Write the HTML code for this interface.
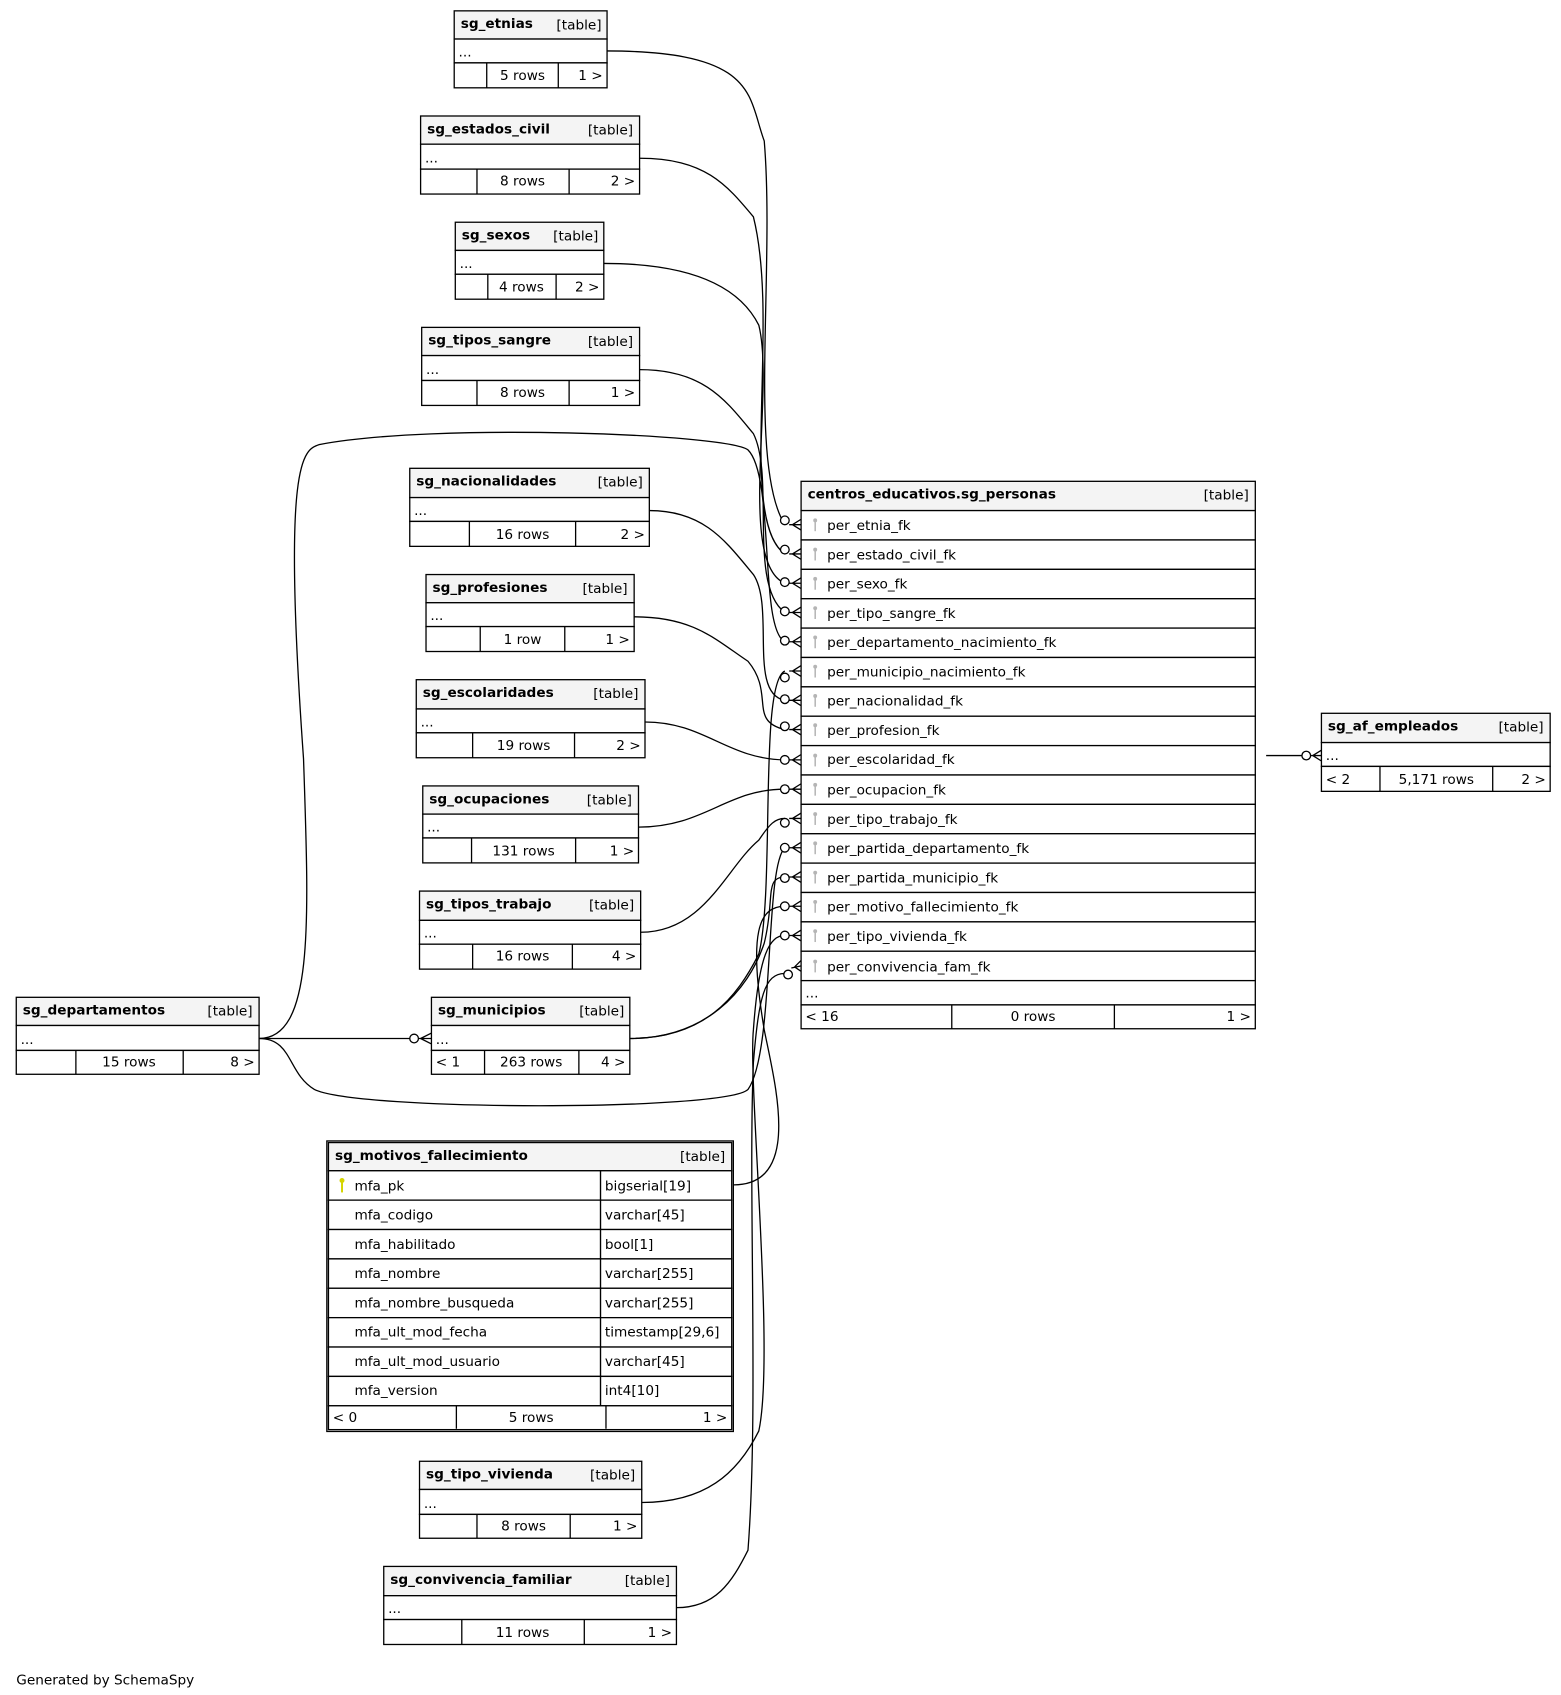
<!DOCTYPE html>
<html><head><meta charset="utf-8"><style>
html,body{margin:0;padding:0;background:#fff;width:1561px;height:1695px;overflow:hidden}
svg{display:block}
text{font-family:"DejaVu Sans","Liberation Sans",sans-serif;font-size:12.6px;fill:#000}
.b{font-weight:bold}
.e{text-anchor:end}
.m{text-anchor:middle}
rect{stroke:#000;stroke-width:1.2}
.h{fill:#f4f4f4}
.w{fill:#fff}
path.c{fill:none;stroke:#000;stroke-width:1.2}
line{stroke:#000;stroke-width:1.2}
.k line{stroke:#b5b5b5;stroke-width:1.4}
.k circle{fill:#b5b5b5}
</style></head><body>
<svg width="1561" height="1695" viewBox="0 0 1440 1563.6" xmlns="http://www.w3.org/2000/svg">
<!-- edges -->
<path class="c" d="M560,47 C700,47 690,90 705,130 C715,250 690,430 724,484"/>
<path class="c" d="M590,146 C650,146 670,170 695,200 C720,300 680,480 724,511"/>
<path class="c" d="M557,243 C630,243 680,260 700,300 C715,360 680,520 724,538"/>
<path class="c" d="M590,341 C650,341 670,370 695,400 C715,440 690,540 724,565"/>
<path class="c" d="M239,958 C290,958 285,850 280,700 C260,420 280,415 295,410 C400,390 670,400 690,415 C715,440 700,580 724,592"/>
<path class="c" d="M599,471 C650,471 670,500 695,530 C715,560 690,640 724,646"/>
<path class="c" d="M585,569 C640,569 660,590 690,610 C715,640 690,665 724,673"/>
<path class="c" d="M595,666 C650,666 670,700 724,701"/>
<path class="c" d="M589,763 C650,763 670,728 724,728"/>
<path class="c" d="M591,860 C650,860 670,800 700,775 C710,760 715,755 724,755"/>
<path class="c" d="M581,958 C650,958 680,920 700,880 C715,820 700,630 724,619"/>
<path class="c" d="M581,958 C650,958 690,915 705,870 C715,830 705,809 724,809"/>
<path class="c" d="M239,958 C270,958 265,990 290,1005 C330,1025 670,1025 690,1005 C715,970 705,800 724,782"/>
<path class="c" d="M677,1093 C740,1093 715,1000 705,950 C690,860 700,836 724,836"/>
<path class="c" d="M592,1386 C650,1386 680,1360 700,1320 C715,1250 690,1000 695,950 C700,880 710,863 724,863"/>
<path class="c" d="M624,1483 C660,1483 675,1460 690,1430 C700,1300 690,1100 695,980 C700,920 705,898 724,898"/>
<path class="c" d="M1168,697 L1205,697"/>
<line x1="239" y1="958" x2="384" y2="958"/>
<circle cx="382" cy="958" r="4" fill="#fff" stroke="#000" stroke-width="1.2"/>
<path class="c" d="M386,958 L398,958 M388,958 L398,953 M388,958 L398,963"/>
<circle cx="1205" cy="697" r="4" fill="#fff" stroke="#000" stroke-width="1.2"/>
<path class="c" d="M1209,697 L1219,697 M1211,697 L1219,692 M1211,697 L1219,702"/>
<!-- crow feet at personas -->
<g fill="#fff" stroke="#000" stroke-width="1.2">
<circle cx="724" cy="480" r="4"/><circle cx="724" cy="507" r="4"/><circle cx="724" cy="537" r="4"/><circle cx="724" cy="564" r="4"/><circle cx="724" cy="591" r="4"/><circle cx="724" cy="625" r="4"/><circle cx="724" cy="645" r="4"/><circle cx="724" cy="670" r="4"/><circle cx="724" cy="701" r="4"/><circle cx="724" cy="728" r="4"/><circle cx="724" cy="759" r="4"/><circle cx="724" cy="782" r="4"/><circle cx="724" cy="810" r="4"/><circle cx="724" cy="836" r="4"/><circle cx="724" cy="863" r="4"/><circle cx="727" cy="899" r="4"/>
</g>
<path class="c" d="M728,484 L739,484 M731,484 L739,479 M731,484 L739,489
M728,511 L739,511 M731,511 L739,506 M731,511 L739,516
M728,538 L739,538 M731,538 L739,533 M731,538 L739,543
M728,565 L739,565 M731,565 L739,560 M731,565 L739,570
M728,592 L739,592 M731,592 L739,587 M731,592 L739,597
M728,619 L739,619 M731,619 L739,614 M731,619 L739,624
M728,646 L739,646 M731,646 L739,641 M731,646 L739,651
M728,673 L739,673 M731,673 L739,668 M731,673 L739,678
M728,701 L739,701 M731,701 L739,696 M731,701 L739,706
M728,728 L739,728 M731,728 L739,723 M731,728 L739,733
M728,755 L739,755 M731,755 L739,750 M731,755 L739,760
M728,782 L739,782 M731,782 L739,777 M731,782 L739,787
M728,809 L739,809 M731,809 L739,804 M731,809 L739,814
M728,836 L739,836 M731,836 L739,831 M731,836 L739,841
M728,863 L739,863 M731,863 L739,858 M731,863 L739,868
M730,893 L739,891 M733,892 L739,886 M733,892 L739,896"/>

<!-- small tables -->
<g>
<rect class="h" x="419" y="10" width="141" height="26"/><rect class="w" x="419" y="36" width="141" height="22"/><rect class="w" x="419" y="58" width="141" height="23"/>
<line x1="449" y1="58" x2="449" y2="81"/><line x1="515" y1="58" x2="515" y2="81"/>
<text class="b" x="425" y="26">sg_etnias</text><text class="e" x="555" y="27">[table]</text><text x="423" y="52">...</text>
<text class="m" x="482" y="74">5 rows</text><text class="e" x="556" y="74">1 &gt;</text>
</g>
<g>
<rect class="h" x="388" y="107" width="202" height="26"/><rect class="w" x="388" y="133" width="202" height="23"/><rect class="w" x="388" y="156" width="202" height="23"/>
<line x1="440" y1="156" x2="440" y2="179"/><line x1="525" y1="156" x2="525" y2="179"/>
<text class="b" x="394" y="123">sg_estados_civil</text><text class="e" x="584" y="124">[table]</text><text x="392" y="150">...</text>
<text class="m" x="482" y="171">8 rows</text><text class="e" x="586" y="171">2 &gt;</text>
</g>
<g>
<rect class="h" x="420" y="205" width="137" height="26"/><rect class="w" x="420" y="231" width="137" height="22"/><rect class="w" x="420" y="253" width="137" height="23"/>
<line x1="450" y1="253" x2="450" y2="276"/><line x1="513" y1="253" x2="513" y2="276"/>
<text class="b" x="426" y="221">sg_sexos</text><text class="e" x="552" y="222">[table]</text><text x="424" y="247">...</text>
<text class="m" x="481" y="269">4 rows</text><text class="e" x="553" y="269">2 &gt;</text>
</g>
<g>
<rect class="h" x="389" y="302" width="201" height="26"/><rect class="w" x="389" y="328" width="201" height="23"/><rect class="w" x="389" y="351" width="201" height="23"/>
<line x1="440" y1="351" x2="440" y2="374"/><line x1="525" y1="351" x2="525" y2="374"/>
<text class="b" x="395" y="318">sg_tipos_sangre</text><text class="e" x="584" y="319">[table]</text><text x="393" y="345">...</text>
<text class="m" x="482" y="366">8 rows</text><text class="e" x="586" y="366">1 &gt;</text>
</g>
<g>
<rect class="h" x="378" y="432" width="221" height="27"/><rect class="w" x="378" y="459" width="221" height="22"/><rect class="w" x="378" y="481" width="221" height="23"/>
<line x1="433" y1="481" x2="433" y2="504"/><line x1="531" y1="481" x2="531" y2="504"/>
<text class="b" x="384" y="448">sg_nacionalidades</text><text class="e" x="593" y="449">[table]</text><text x="382" y="475">...</text>
<text class="m" x="482" y="497">16 rows</text><text class="e" x="595" y="497">2 &gt;</text>
</g>
<g>
<rect class="h" x="393" y="530" width="192" height="26"/><rect class="w" x="393" y="556" width="192" height="22"/><rect class="w" x="393" y="578" width="192" height="23"/>
<line x1="443" y1="578" x2="443" y2="601"/><line x1="521" y1="578" x2="521" y2="601"/>
<text class="b" x="399" y="546">sg_profesiones</text><text class="e" x="579" y="547">[table]</text><text x="397" y="572">...</text>
<text class="m" x="482" y="594">1 row</text><text class="e" x="581" y="594">1 &gt;</text>
</g>
<g>
<rect class="h" x="384" y="627" width="211" height="27"/><rect class="w" x="384" y="654" width="211" height="22"/><rect class="w" x="384" y="676" width="211" height="23"/>
<line x1="436" y1="676" x2="436" y2="699"/><line x1="530" y1="676" x2="530" y2="699"/>
<text class="b" x="390" y="643">sg_escolaridades</text><text class="e" x="589" y="644">[table]</text><text x="388" y="670">...</text>
<text class="m" x="483" y="692">19 rows</text><text class="e" x="591" y="692">2 &gt;</text>
</g>
<g>
<rect class="h" x="390" y="725" width="199" height="26"/><rect class="w" x="390" y="751" width="199" height="22"/><rect class="w" x="390" y="773" width="199" height="23"/>
<line x1="435" y1="773" x2="435" y2="796"/><line x1="531" y1="773" x2="531" y2="796"/>
<text class="b" x="396" y="741">sg_ocupaciones</text><text class="e" x="583" y="742">[table]</text><text x="394" y="767">...</text>
<text class="m" x="483" y="789">131 rows</text><text class="e" x="585" y="789">1 &gt;</text>
</g>
<g>
<rect class="h" x="387" y="822" width="204" height="27"/><rect class="w" x="387" y="849" width="204" height="22"/><rect class="w" x="387" y="871" width="204" height="23"/>
<line x1="436" y1="871" x2="436" y2="894"/><line x1="528" y1="871" x2="528" y2="894"/>
<text class="b" x="393" y="838">sg_tipos_trabajo</text><text class="e" x="585" y="839">[table]</text><text x="391" y="865">...</text>
<text class="m" x="482" y="886">16 rows</text><text class="e" x="587" y="886">4 &gt;</text>
</g>
<g>
<rect class="h" x="398" y="920" width="183" height="26"/><rect class="w" x="398" y="946" width="183" height="23"/><rect class="w" x="398" y="969" width="183" height="22"/>
<line x1="447" y1="969" x2="447" y2="991"/><line x1="534" y1="969" x2="534" y2="991"/>
<text class="b" x="404" y="936">sg_municipios</text><text class="e" x="576" y="937">[table]</text><text x="402" y="963">...</text>
<text x="402" y="984">&lt; 1</text><text class="m" x="490" y="984">263 rows</text><text class="e" x="577" y="984">4 &gt;</text>
</g>
<g>
<rect class="h" x="15" y="920" width="224" height="26"/><rect class="w" x="15" y="946" width="224" height="23"/><rect class="w" x="15" y="969" width="224" height="22"/>
<line x1="70" y1="969" x2="70" y2="991"/><line x1="169" y1="969" x2="169" y2="991"/>
<text class="b" x="21" y="936">sg_departamentos</text><text class="e" x="233" y="937">[table]</text><text x="19" y="963">...</text>
<text class="m" x="119" y="984">15 rows</text><text class="e" x="235" y="984">8 &gt;</text>
</g>
<g>
<rect class="h" x="387" y="1348" width="205" height="26"/><rect class="w" x="387" y="1374" width="205" height="23"/><rect class="w" x="387" y="1397" width="205" height="22"/>
<line x1="440" y1="1397" x2="440" y2="1419"/><line x1="526" y1="1397" x2="526" y2="1419"/>
<text class="b" x="393" y="1364">sg_tipo_vivienda</text><text class="e" x="586" y="1365">[table]</text><text x="391" y="1391">...</text>
<text class="m" x="483" y="1412">8 rows</text><text class="e" x="588" y="1412">1 &gt;</text>
</g>
<g>
<rect class="h" x="354" y="1445" width="270" height="27"/><rect class="w" x="354" y="1472" width="270" height="22"/><rect class="w" x="354" y="1494" width="270" height="23"/>
<line x1="426" y1="1494" x2="426" y2="1517"/><line x1="539" y1="1494" x2="539" y2="1517"/>
<text class="b" x="360" y="1461">sg_convivencia_familiar</text><text class="e" x="618" y="1462">[table]</text><text x="358" y="1488">...</text>
<text class="m" x="482" y="1510">11 rows</text><text class="e" x="620" y="1510">1 &gt;</text>
</g>
<g>
<rect class="h" x="1219" y="658" width="211" height="27"/><rect class="w" x="1219" y="685" width="211" height="22"/><rect class="w" x="1219" y="707" width="211" height="23"/>
<line x1="1273" y1="707" x2="1273" y2="730"/><line x1="1377" y1="707" x2="1377" y2="730"/>
<text class="b" x="1225" y="674">sg_af_empleados</text><text class="e" x="1424" y="675">[table]</text><text x="1223" y="701">...</text>
<text x="1223" y="723">&lt; 2</text><text class="m" x="1325" y="723">5,171 rows</text><text class="e" x="1426" y="723">2 &gt;</text>
</g>

<!-- personas -->
<g>
<rect class="h" x="739" y="444" width="419" height="27"/>
<rect class="w" x="739" y="471" width="419" height="27.1"/><rect class="w" x="739" y="498.1" width="419" height="27.1"/><rect class="w" x="739" y="525.2" width="419" height="27.1"/><rect class="w" x="739" y="552.3" width="419" height="27.1"/><rect class="w" x="739" y="579.4" width="419" height="27.1"/><rect class="w" x="739" y="606.5" width="419" height="27.1"/><rect class="w" x="739" y="633.6" width="419" height="27.1"/><rect class="w" x="739" y="660.7" width="419" height="27.1"/><rect class="w" x="739" y="687.8" width="419" height="27.1"/><rect class="w" x="739" y="714.9" width="419" height="27.1"/><rect class="w" x="739" y="742" width="419" height="27.1"/><rect class="w" x="739" y="769.1" width="419" height="27.1"/><rect class="w" x="739" y="796.2" width="419" height="27.1"/><rect class="w" x="739" y="823.3" width="419" height="27.1"/><rect class="w" x="739" y="850.4" width="419" height="27.1"/><rect class="w" x="739" y="877.5" width="419" height="27.1"/>
<rect class="w" x="739" y="904.6" width="419" height="22.4"/><rect class="w" x="739" y="927" width="419" height="22"/>
<line x1="878" y1="927" x2="878" y2="949"/><line x1="1028" y1="927" x2="1028" y2="949"/>
<text class="b" x="745" y="460">centros_educativos.sg_personas</text><text class="e" x="1152" y="461">[table]</text>
<g class="k">
<circle cx="752" cy="480" r="1.8"/><line x1="752" y1="480" x2="752" y2="490"/>
<circle cx="752" cy="507" r="1.8"/><line x1="752" y1="507" x2="752" y2="517"/>
<circle cx="752" cy="534" r="1.8"/><line x1="752" y1="534" x2="752" y2="544"/>
<circle cx="752" cy="561" r="1.8"/><line x1="752" y1="561" x2="752" y2="571"/>
<circle cx="752" cy="588" r="1.8"/><line x1="752" y1="588" x2="752" y2="598"/>
<circle cx="752" cy="615" r="1.8"/><line x1="752" y1="615" x2="752" y2="625"/>
<circle cx="752" cy="642" r="1.8"/><line x1="752" y1="642" x2="752" y2="652"/>
<circle cx="752" cy="669" r="1.8"/><line x1="752" y1="669" x2="752" y2="679"/>
<circle cx="752" cy="697" r="1.8"/><line x1="752" y1="697" x2="752" y2="707"/>
<circle cx="752" cy="724" r="1.8"/><line x1="752" y1="724" x2="752" y2="734"/>
<circle cx="752" cy="751" r="1.8"/><line x1="752" y1="751" x2="752" y2="761"/>
<circle cx="752" cy="778" r="1.8"/><line x1="752" y1="778" x2="752" y2="788"/>
<circle cx="752" cy="805" r="1.8"/><line x1="752" y1="805" x2="752" y2="815"/>
<circle cx="752" cy="832" r="1.8"/><line x1="752" y1="832" x2="752" y2="842"/>
<circle cx="752" cy="859" r="1.8"/><line x1="752" y1="859" x2="752" y2="869"/>
<circle cx="752" cy="887" r="1.8"/><line x1="752" y1="887" x2="752" y2="897"/>
</g>
<text x="763" y="489">per_etnia_fk</text>
<text x="763" y="516">per_estado_civil_fk</text>
<text x="763" y="543">per_sexo_fk</text>
<text x="763" y="570">per_tipo_sangre_fk</text>
<text x="763" y="597">per_departamento_nacimiento_fk</text>
<text x="763" y="624">per_municipio_nacimiento_fk</text>
<text x="763" y="651">per_nacionalidad_fk</text>
<text x="763" y="678">per_profesion_fk</text>
<text x="763" y="705">per_escolaridad_fk</text>
<text x="763" y="733">per_ocupacion_fk</text>
<text x="763" y="760">per_tipo_trabajo_fk</text>
<text x="763" y="787">per_partida_departamento_fk</text>
<text x="763" y="814">per_partida_municipio_fk</text>
<text x="763" y="841">per_motivo_fallecimiento_fk</text>
<text x="763" y="868">per_tipo_vivienda_fk</text>
<text x="763" y="896">per_convivencia_fam_fk</text>
<text x="743" y="920">...</text>
<text x="743" y="942">&lt; 16</text><text class="m" x="953" y="942">0 rows</text><text class="e" x="1154" y="942">1 &gt;</text>
</g>

<!-- motivos -->
<g>
<rect x="301.5" y="1052.5" width="375" height="268" fill="#fff" stroke-width="3"/>
<rect class="h" x="303" y="1054" width="372" height="26"/>
<rect class="w" x="303" y="1080" width="251" height="27.1"/><rect class="w" x="554" y="1080" width="121" height="27.1"/>
<rect class="w" x="303" y="1107.1" width="251" height="27.1"/><rect class="w" x="554" y="1107.1" width="121" height="27.1"/>
<rect class="w" x="303" y="1134.2" width="251" height="27.1"/><rect class="w" x="554" y="1134.2" width="121" height="27.1"/>
<rect class="w" x="303" y="1161.3" width="251" height="27.1"/><rect class="w" x="554" y="1161.3" width="121" height="27.1"/>
<rect class="w" x="303" y="1188.4" width="251" height="27.1"/><rect class="w" x="554" y="1188.4" width="121" height="27.1"/>
<rect class="w" x="303" y="1215.5" width="251" height="27.1"/><rect class="w" x="554" y="1215.5" width="121" height="27.1"/>
<rect class="w" x="303" y="1242.6" width="251" height="27.1"/><rect class="w" x="554" y="1242.6" width="121" height="27.1"/>
<rect class="w" x="303" y="1269.7" width="251" height="27.1"/><rect class="w" x="554" y="1269.7" width="121" height="27.1"/>
<rect class="w" x="303" y="1296.8" width="372" height="22"/>
<line x1="421" y1="1297" x2="421" y2="1318"/><line x1="559" y1="1297" x2="559" y2="1318"/>
<text class="b" x="309" y="1070">sg_motivos_fallecimiento</text><text class="e" x="669" y="1071">[table]</text>
<circle cx="315.5" cy="1089" r="2.3" fill="#d4d400"/><line x1="315.5" y1="1089" x2="315.5" y2="1100" style="stroke:#d4d400;stroke-width:1.8"/>
<text x="327" y="1098">mfa_pk</text><text x="558" y="1098">bigserial[19]</text>
<text x="327" y="1125">mfa_codigo</text><text x="558" y="1125">varchar[45]</text>
<text x="327" y="1152">mfa_habilitado</text><text x="558" y="1152">bool[1]</text>
<text x="327" y="1179">mfa_nombre</text><text x="558" y="1179">varchar[255]</text>
<text x="327" y="1206">mfa_nombre_busqueda</text><text x="558" y="1206">varchar[255]</text>
<text x="327" y="1233">mfa_ult_mod_fecha</text><text x="558" y="1233">timestamp[29,6]</text>
<text x="327" y="1260">mfa_ult_mod_usuario</text><text x="558" y="1260">varchar[45]</text>
<text x="327" y="1287">mfa_version</text><text x="558" y="1287">int4[10]</text>
<text x="307" y="1312">&lt; 0</text><text class="m" x="490" y="1312">5 rows</text><text class="e" x="671" y="1312">1 &gt;</text>
</g>
<text x="15" y="1554">Generated by SchemaSpy</text>
</svg>
</body></html>
